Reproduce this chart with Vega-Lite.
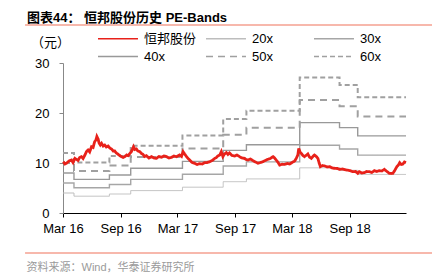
{
  "$schema": "https://vega.github.io/schema/vega-lite/v6.json",
  "width": 343,
  "height": 150,
  "autosize": {"type": "none"},
  "padding": {"left": 63, "top": 63, "right": 26, "bottom": 62},
  "background": "#ffffff",
  "title": {
    "text": "图表44：  恒邦股份历史 PE-Bands",
    "anchor": "start",
    "frame": "group",
    "dx": -36,
    "dy": 5,
    "offset": 4,
    "font": "Liberation Sans, Noto Sans CJK SC",
    "fontSize": 13,
    "fontWeight": "bold",
    "color": "#000000"
  },
  "datasets": {
    "bands": [
      {"d": "2016-03-01", "20x": 4, "30x": 6, "40x": 8, "50x": 10, "60x": 12},
      {"d": "2016-04-05", "20x": 3.36, "30x": 5.04, "40x": 6.72, "50x": 8.4, "60x": 10.08},
      {"d": "2016-07-27", "20x": 3.8, "30x": 5.7, "40x": 7.6, "50x": 9.5, "60x": 11.4},
      {"d": "2016-10-03", "20x": 4.48, "30x": 6.72, "40x": 8.96, "50x": 11.2, "60x": 13.44},
      {"d": "2017-03-17", "20x": 5.16, "30x": 7.74, "40x": 10.32, "50x": 12.9, "60x": 15.48},
      {"d": "2017-07-25", "20x": 6.26, "30x": 9.39, "40x": 12.52, "50x": 15.65, "60x": 18.78},
      {"d": "2017-10-07", "20x": 6.82, "30x": 10.23, "40x": 13.64, "50x": 17.05, "60x": 20.46},
      {"d": "2018-03-26", "20x": 9.04, "30x": 13.56, "40x": 18.08, "50x": 22.6, "60x": 27.12},
      {"d": "2018-07-31", "20x": 8.54, "30x": 12.81, "40x": 17.08, "50x": 21.35, "60x": 25.62},
      {"d": "2018-09-27", "20x": 7.71, "30x": 11.57, "40x": 15.42, "50x": 19.28, "60x": 23.13},
      {"d": "2019-02-28", "20x": 7.71, "30x": 11.57, "40x": 15.42, "50x": 19.28, "60x": 23.13}
    ],
    "price": [
      {"d": "2016-03-02", "恒邦股份": 10.27},
      {"d": "2016-03-07", "恒邦股份": 9.8},
      {"d": "2016-03-12", "恒邦股份": 9.93},
      {"d": "2016-03-20", "恒邦股份": 10.4},
      {"d": "2016-03-28", "恒邦股份": 10.6},
      {"d": "2016-04-02", "恒邦股份": 10.1},
      {"d": "2016-04-08", "恒邦股份": 10.93},
      {"d": "2016-04-18", "恒邦股份": 10.5},
      {"d": "2016-04-23", "恒邦股份": 11.1},
      {"d": "2016-04-29", "恒邦股份": 11.27},
      {"d": "2016-05-04", "恒邦股份": 10.9},
      {"d": "2016-05-10", "恒邦股份": 11.6},
      {"d": "2016-05-15", "恒邦股份": 12.3},
      {"d": "2016-05-20", "恒邦股份": 12.6},
      {"d": "2016-05-25", "恒邦股份": 12.2},
      {"d": "2016-05-31", "恒邦股份": 13.27},
      {"d": "2016-06-05", "恒邦股份": 13.1},
      {"d": "2016-06-10", "恒邦股份": 14.27},
      {"d": "2016-06-14", "恒邦股份": 14.6},
      {"d": "2016-06-17", "恒邦股份": 15.3},
      {"d": "2016-06-21", "恒邦股份": 14.8},
      {"d": "2016-06-24", "恒邦股份": 14.0},
      {"d": "2016-06-28", "恒邦股份": 13.6},
      {"d": "2016-07-02", "恒邦股份": 13.93},
      {"d": "2016-07-07", "恒邦股份": 13.4},
      {"d": "2016-07-12", "恒邦股份": 13.6},
      {"d": "2016-07-17", "恒邦股份": 13.2},
      {"d": "2016-07-23", "恒邦股份": 13.4},
      {"d": "2016-07-28", "恒邦股份": 13.0},
      {"d": "2016-08-03", "恒邦股份": 12.8},
      {"d": "2016-08-08", "恒邦股份": 12.4},
      {"d": "2016-08-13", "恒邦股份": 12.4},
      {"d": "2016-08-18", "恒邦股份": 12.0},
      {"d": "2016-08-24", "恒邦股份": 11.73},
      {"d": "2016-08-29", "恒邦股份": 11.5},
      {"d": "2016-09-03", "恒邦股份": 11.27},
      {"d": "2016-09-09", "恒邦股份": 11.1},
      {"d": "2016-09-14", "恒邦股份": 11.27},
      {"d": "2016-09-20", "恒邦股份": 11.6},
      {"d": "2016-09-25", "恒邦股份": 11.47},
      {"d": "2016-09-30", "恒邦股份": 11.9},
      {"d": "2016-10-05", "恒邦股份": 12.27},
      {"d": "2016-10-12", "恒邦股份": 13.27},
      {"d": "2016-10-16", "恒邦股份": 12.7},
      {"d": "2016-10-21", "恒邦股份": 12.8},
      {"d": "2016-10-26", "恒邦股份": 12.4},
      {"d": "2016-11-01", "恒邦股份": 12.27},
      {"d": "2016-11-06", "恒邦股份": 11.9},
      {"d": "2016-11-11", "恒邦股份": 11.73},
      {"d": "2016-11-16", "恒邦股份": 11.3},
      {"d": "2016-11-22", "恒邦股份": 11.47},
      {"d": "2016-11-30", "恒邦股份": 11.0},
      {"d": "2016-12-08", "恒邦股份": 11.27},
      {"d": "2016-12-16", "恒邦股份": 11.0},
      {"d": "2016-12-24", "恒邦股份": 10.93},
      {"d": "2017-01-01", "恒邦股份": 11.3},
      {"d": "2017-01-09", "恒邦股份": 11.13},
      {"d": "2017-01-17", "恒邦股份": 11.4},
      {"d": "2017-01-25", "恒邦股份": 11.27},
      {"d": "2017-02-02", "恒邦股份": 11.0},
      {"d": "2017-02-10", "恒邦股份": 11.13},
      {"d": "2017-02-18", "恒邦股份": 11.4},
      {"d": "2017-02-26", "恒邦股份": 11.27},
      {"d": "2017-03-08", "恒邦股份": 11.6},
      {"d": "2017-03-14", "恒邦股份": 11.3},
      {"d": "2017-03-19", "恒邦股份": 12.27},
      {"d": "2017-03-24", "恒邦股份": 11.8},
      {"d": "2017-03-30", "恒邦股份": 11.27},
      {"d": "2017-04-04", "恒邦股份": 10.9},
      {"d": "2017-04-09", "恒邦股份": 10.6},
      {"d": "2017-04-17", "恒邦股份": 10.1},
      {"d": "2017-04-25", "恒邦股份": 9.93},
      {"d": "2017-05-03", "恒邦股份": 9.7},
      {"d": "2017-05-11", "恒邦股份": 9.87},
      {"d": "2017-05-19", "恒邦股份": 9.8},
      {"d": "2017-05-27", "恒邦股份": 10.07},
      {"d": "2017-06-04", "恒邦股份": 10.1},
      {"d": "2017-06-12", "恒邦股份": 10.27},
      {"d": "2017-06-20", "恒邦股份": 10.5},
      {"d": "2017-06-28", "恒邦股份": 10.93},
      {"d": "2017-07-03", "恒邦股份": 11.1},
      {"d": "2017-07-08", "恒邦股份": 11.4},
      {"d": "2017-07-14", "恒邦股份": 11.6},
      {"d": "2017-07-19", "恒邦股份": 12.27},
      {"d": "2017-07-24", "恒邦股份": 11.27},
      {"d": "2017-07-29", "恒邦股份": 11.8},
      {"d": "2017-08-04", "恒邦股份": 12.07},
      {"d": "2017-08-09", "恒邦股份": 11.7},
      {"d": "2017-08-14", "恒邦股份": 12.0},
      {"d": "2017-08-22", "恒邦股份": 11.5},
      {"d": "2017-08-31", "恒邦股份": 11.4},
      {"d": "2017-09-07", "恒邦股份": 11.6},
      {"d": "2017-09-15", "恒邦股份": 11.27},
      {"d": "2017-09-23", "恒邦股份": 11.0},
      {"d": "2017-10-01", "恒邦股份": 10.93},
      {"d": "2017-10-06", "恒邦股份": 10.7},
      {"d": "2017-10-12", "恒邦股份": 10.6},
      {"d": "2017-10-20", "恒邦股份": 10.8},
      {"d": "2017-10-28", "恒邦股份": 10.47},
      {"d": "2017-11-05", "恒邦股份": 10.2},
      {"d": "2017-11-13", "恒邦股份": 9.93},
      {"d": "2017-11-21", "恒邦股份": 10.1},
      {"d": "2017-11-29", "恒邦股份": 10.27},
      {"d": "2017-12-06", "恒邦股份": 10.5},
      {"d": "2017-12-14", "恒邦股份": 10.73},
      {"d": "2017-12-22", "恒邦股份": 10.9},
      {"d": "2017-12-31", "恒邦股份": 11.27},
      {"d": "2018-01-05", "恒邦股份": 11.0},
      {"d": "2018-01-10", "恒邦股份": 10.6},
      {"d": "2018-01-16", "恒邦股份": 10.1},
      {"d": "2018-01-21", "恒邦股份": 9.6},
      {"d": "2018-01-29", "恒邦股份": 9.75},
      {"d": "2018-02-06", "恒邦股份": 9.73},
      {"d": "2018-02-14", "恒邦股份": 9.9},
      {"d": "2018-02-22", "恒邦股份": 9.8},
      {"d": "2018-03-04", "恒邦股份": 10.2},
      {"d": "2018-03-10", "恒邦股份": 10.4},
      {"d": "2018-03-15", "恒邦股份": 10.93},
      {"d": "2018-03-20", "恒邦股份": 11.6},
      {"d": "2018-03-23", "恒邦股份": 12.93},
      {"d": "2018-03-27", "恒邦股份": 12.2},
      {"d": "2018-03-31", "恒邦股份": 11.93},
      {"d": "2018-04-05", "恒邦股份": 11.5},
      {"d": "2018-04-10", "恒邦股份": 11.27},
      {"d": "2018-04-15", "恒邦股份": 11.5},
      {"d": "2018-04-21", "恒邦股份": 11.8},
      {"d": "2018-04-26", "恒邦股份": 11.2},
      {"d": "2018-05-02", "恒邦股份": 10.93},
      {"d": "2018-05-07", "恒邦股份": 11.3},
      {"d": "2018-05-12", "恒邦股份": 11.6},
      {"d": "2018-05-18", "恒邦股份": 11.3},
      {"d": "2018-05-23", "恒邦股份": 10.93},
      {"d": "2018-05-27", "恒邦股份": 10.0},
      {"d": "2018-05-31", "恒邦股份": 9.27},
      {"d": "2018-06-07", "恒邦股份": 9.5},
      {"d": "2018-06-14", "恒邦股份": 9.4},
      {"d": "2018-06-22", "恒邦股份": 9.2},
      {"d": "2018-06-30", "恒邦股份": 9.27},
      {"d": "2018-07-08", "恒邦股份": 9.0},
      {"d": "2018-07-16", "恒邦股份": 8.93},
      {"d": "2018-07-24", "恒邦股份": 8.9},
      {"d": "2018-07-31", "恒邦股份": 8.73},
      {"d": "2018-08-10", "恒邦股份": 8.8},
      {"d": "2018-08-21", "恒邦股份": 8.6},
      {"d": "2018-09-01", "恒邦股份": 8.5},
      {"d": "2018-09-11", "恒邦股份": 8.27},
      {"d": "2018-09-20", "恒邦股份": 8.3},
      {"d": "2018-09-27", "恒邦股份": 7.93},
      {"d": "2018-10-02", "恒邦股份": 8.27},
      {"d": "2018-10-10", "恒邦股份": 8.0},
      {"d": "2018-10-18", "恒邦股份": 8.07},
      {"d": "2018-10-26", "恒邦股份": 8.3},
      {"d": "2018-11-03", "恒邦股份": 8.27},
      {"d": "2018-11-11", "恒邦股份": 8.1},
      {"d": "2018-11-19", "恒邦股份": 8.47},
      {"d": "2018-11-27", "恒邦股份": 8.3},
      {"d": "2018-12-05", "恒邦股份": 8.47},
      {"d": "2018-12-13", "恒邦股份": 8.4},
      {"d": "2018-12-21", "恒邦股份": 8.73},
      {"d": "2018-12-29", "恒邦股份": 8.3},
      {"d": "2019-01-06", "恒邦股份": 7.93},
      {"d": "2019-01-12", "恒邦股份": 7.9},
      {"d": "2019-01-17", "恒邦股份": 7.93},
      {"d": "2019-01-23", "恒邦股份": 8.5},
      {"d": "2019-01-30", "恒邦股份": 9.27},
      {"d": "2019-02-04", "恒邦股份": 9.6},
      {"d": "2019-02-08", "恒邦股份": 10.07},
      {"d": "2019-02-13", "恒邦股份": 9.7},
      {"d": "2019-02-18", "恒邦股份": 9.8},
      {"d": "2019-02-23", "恒邦股份": 10.2},
      {"d": "2019-02-28", "恒邦股份": 10.07}
    ]
  },
  "layer": [
    {
      "data": {"values": [{}]},
      "mark": {"type": "rule", "color": "#f4a090", "strokeWidth": 1.5},
      "encoding": {
        "x": {"datum": {"year": 2015, "month": 11, "date": 1}, "type": "temporal"},
        "x2": {"datum": {"year": 2019, "month": 6, "date": 1}},
        "y": {"datum": 37.6, "type": "quantitative"}
      }
    },
    {
      "data": {"values": [{}]},
      "mark": {"type": "rule", "color": "#f4a090", "strokeWidth": 1.5},
      "encoding": {
        "x": {"datum": {"year": 2015, "month": 11, "date": 1}, "type": "temporal"},
        "x2": {"datum": {"year": 2019, "month": 6, "date": 1}},
        "y": {"datum": -8, "type": "quantitative"}
      }
    },
    {
      "data": {"name": "bands"},
      "transform": [{"fold": ["20x"], "as": ["key", "value"]}],
      "mark": {"type": "line", "interpolate": "step-after", "strokeWidth": 1},
      "encoding": {
        "x": {"field": "d", "type": "temporal"},
        "y": {"field": "value", "type": "quantitative"},
        "color": {"field": "key", "type": "nominal"},
        "strokeDash": {"field": "key", "type": "nominal"}
      }
    },
    {
      "data": {"name": "bands"},
      "transform": [{"fold": ["30x", "40x"], "as": ["key", "value"]}],
      "mark": {"type": "line", "interpolate": "step-after", "strokeWidth": 1.4},
      "encoding": {
        "x": {"field": "d", "type": "temporal"},
        "y": {"field": "value", "type": "quantitative"},
        "color": {"field": "key", "type": "nominal"},
        "strokeDash": {"field": "key", "type": "nominal"}
      }
    },
    {
      "data": {"name": "bands"},
      "transform": [{"fold": ["50x", "60x"], "as": ["key", "value"]}],
      "mark": {"type": "line", "interpolate": "step-after", "strokeWidth": 2},
      "encoding": {
        "x": {"field": "d", "type": "temporal"},
        "y": {"field": "value", "type": "quantitative"},
        "color": {"field": "key", "type": "nominal"},
        "strokeDash": {"field": "key", "type": "nominal"}
      }
    },
    {
      "data": {"name": "price"},
      "transform": [{"fold": ["恒邦股份"], "as": ["key", "value"]}],
      "mark": {"type": "line", "strokeWidth": 2.8},
      "encoding": {
        "x": {
          "field": "d",
          "type": "temporal",
          "scale": {"domain": [{"year": 2016, "month": 3, "date": 1}, {"year": 2019, "month": 2, "date": 28}]},
          "axis": {
            "values": [
              {"year": 2016, "month": 3, "date": 1},
              {"year": 2016, "month": 9, "date": 1},
              {"year": 2017, "month": 3, "date": 1},
              {"year": 2017, "month": 9, "date": 1},
              {"year": 2018, "month": 3, "date": 1},
              {"year": 2018, "month": 9, "date": 1}
            ],
            "format": "%b %y",
            "grid": false,
            "domainColor": "#000000",
            "tickColor": "#000000",
            "tickSize": 4,
            "labelPadding": 5,
            "labelFontSize": 13,
            "labelColor": "#000000",
            "labelFont": "Liberation Sans",
            "labelFlush": false,
            "labelOverlap": false,
            "title": "资料来源：Wind，华泰证券研究所",
            "titleAnchor": "start",
            "titleAlign": "left",
            "titleX": -37,
            "titleY": 54,
            "titleBaseline": "middle",
            "titleFontSize": 11,
            "titleFontWeight": "normal",
            "titleColor": "#9a9a9a",
            "titleFont": "Liberation Sans, Noto Sans CJK SC"
          }
        },
        "y": {
          "field": "value",
          "type": "quantitative",
          "scale": {"domain": [0, 30], "nice": false, "zero": true},
          "axis": {
            "values": [0, 5, 10, 15, 20, 25, 30],
            "grid": false,
            "domainColor": "#888888",
            "tickColor": "#888888",
            "tickSize": 4,
            "labelPadding": 10,
            "labelFontSize": 13,
            "labelColor": "#000000",
            "labelFont": "Liberation Sans",
            "title": "（元）",
            "titleAngle": 0,
            "titleX": -13,
            "titleY": -21,
            "titleAlign": "center",
            "titleBaseline": "middle",
            "titleFontSize": 13,
            "titleFontWeight": "normal",
            "titleColor": "#000000",
            "titleFont": "Liberation Sans, Noto Sans CJK SC"
          }
        },
        "color": {
          "field": "key",
          "type": "nominal",
          "scale": {
            "domain": ["恒邦股份", "20x", "30x", "40x", "50x", "60x"],
            "range": ["#e8211a", "#bdbdbd", "#a6a6a6", "#999999", "#a0a0a0", "#a0a0a0"]
          }
        },
        "strokeDash": {
          "field": "key",
          "type": "nominal",
          "scale": {
            "domain": ["恒邦股份", "20x", "30x", "40x", "50x", "60x"],
            "range": [[1, 0], [1, 0], [1, 0], [1, 0], [7, 5], [5, 3]]
          }
        }
      }
    }
  ],
  "config": {
    "view": {"stroke": null},
    "font": "Liberation Sans, Noto Sans CJK SC",
    "legend": {
      "orient": "none",
      "legendX": 34,
      "legendY": -33,
      "columns": 3,
      "direction": "horizontal",
      "title": null,
      "symbolType": "M-1,0H4.33",
      "symbolSize": 225,
      "symbolStrokeWidth": 1.5,
      "labelFontSize": 13,
      "labelFont": "Liberation Sans, Noto Sans CJK SC",
      "labelColor": "#000000",
      "labelOffset": 30,
      "gridAlign": "all",
      "columnPadding": 6,
      "rowPadding": 2
    }
  }
}
